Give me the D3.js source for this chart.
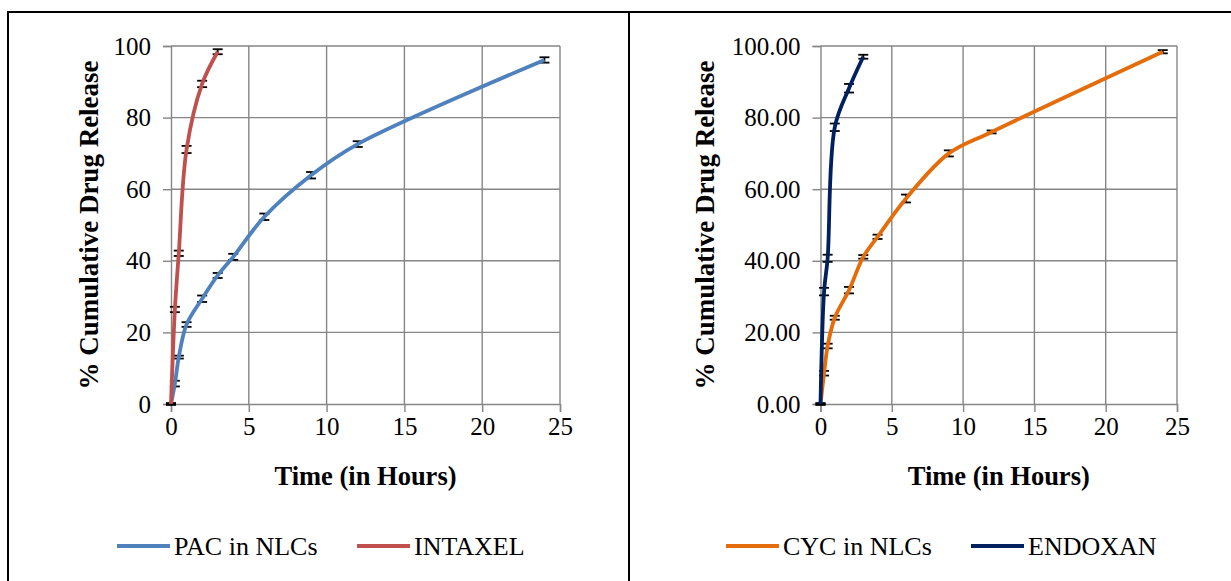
<!DOCTYPE html>
<html>
<head>
<meta charset="utf-8">
<script src="https://cdn.jsdelivr.net/npm/d3@7/dist/d3.min.js"></script>
<style>
  html, body { margin: 0; padding: 0; background: #fff; }
  svg { display: block; }
  svg text { font-family: "Liberation Serif", "Times New Roman", serif !important; fill: #000; }
</style>
</head>
<body>
<svg id="chart" width="1231" height="581" font-family="Liberation Serif"></svg>
<script>
// Sampling times (hours)
const timesNLC = [0, 0.25, 0.5, 1, 2, 3, 4, 6, 9, 12, 24];
const timesMarket = [0, 0.25, 0.5, 1, 2, 3];

// Paclitaxel release (%)
const pacNLC = [0, 5.7, 13.1, 22.2, 29.4, 35.9, 41.1, 52.3, 63.9, 72.6, 96.1];
const pacNLCErr = [0.2, 0.8, 0.4, 0.65, 0.9, 0.7, 0.85, 0.9, 0.9, 0.8, 0.75];
const intaxel = [0, 26.4, 42.1, 71.1, 89.4, 98.4];
const intaxelErr = [0.2, 0.75, 0.75, 1.0, 0.9, 0.7];

// Cyclophosphamide release (%)
const cycNLC = [0, 8.6, 16.2, 24.1, 31.8, 41.1, 46.7, 57.4, 70.0, 76.0, 98.4];
const cycNLCErr = [0.2, 0.65, 0.65, 0.55, 0.9, 0.5, 0.6, 1.1, 0.85, 0.4, 0.45];
const endoxan = [0, 31.4, 40.7, 77.3, 88.2, 97.0];
const endoxanErr = [0.2, 1.05, 1.0, 1.05, 1.2, 0.55];

// Axis ticks
const xTicks = [0, 5, 10, 15, 20, 25];
const yTicks = [0, 20, 40, 60, 80, 100];

const yTitle = "% Cumulative Drug Release";
const xTitle = "Time (in Hours)";

const svg = d3.select("#chart");
const gridColor = "#868686";
const serif = "Liberation Serif, Times New Roman, serif";

// Outer table frame
svg.append("path")
  .attr("d", "M8,581 V12 H1231 M629,12 V581")
  .attr("fill", "none").attr("stroke", "#000").attr("stroke-width", 2);

function toPoints(times, vals, errs) {
  return times.map((t, i) => ({ t, v: vals[i], e: errs[i] }));
}

function drawPanel(p) {
  const x = d3.scaleLinear().domain([0, 25]).range([p.left, p.right]);
  const y = d3.scaleLinear().domain([0, 100]).range([404, 46]);
  const g = svg.append("g");

  // Gridlines
  g.append("g").selectAll("line").data(yTicks.slice(1)).join("line")
    .attr("x1", p.left).attr("x2", p.right)
    .attr("y1", d => y(d)).attr("y2", d => y(d))
    .attr("stroke", gridColor).attr("stroke-width", 1.4);
  g.append("g").selectAll("line").data(xTicks.slice(1)).join("line")
    .attr("x1", d => x(d)).attr("x2", d => x(d))
    .attr("y1", y(0)).attr("y2", y(100))
    .attr("stroke", gridColor).attr("stroke-width", 1.4);

  // Axes
  const yAxis = d3.axisLeft(y).tickValues(yTicks).tickSize(8).tickPadding(12)
    .tickFormat(p.yFormat);
  const yg = g.append("g").attr("transform", `translate(${p.left},0)`).call(yAxis);
  const xAxis = d3.axisBottom(x).tickValues(xTicks).tickSize(8).tickPadding(5)
    .tickFormat(d3.format("d"));
  const xg = g.append("g").attr("transform", `translate(0,${y(0)})`).call(xAxis);
  [yg, xg].forEach(a => {
    a.attr("font-family", serif).attr("font-size", 25);
    a.selectAll("path.domain").attr("stroke", gridColor).attr("stroke-width", 1.4);
    a.selectAll(".tick line").attr("stroke", gridColor).attr("stroke-width", 1.4);
    a.selectAll("text").attr("fill", "#000");
  });

  // Axis titles
  g.append("text")
    .attr("transform", `translate(${p.yTitleX},225) rotate(-90)`)
    .attr("text-anchor", "middle").attr("dominant-baseline", "central")
    .attr("font-size", 27).attr("font-weight", "bold")
    .text(yTitle);
  g.append("text")
    .attr("x", (p.left + p.right) / 2).attr("y", 476)
    .attr("text-anchor", "middle").attr("dominant-baseline", "central")
    .attr("font-size", 26.5).attr("font-weight", "bold")
    .text(xTitle);

  const line = d3.line().x(d => x(d.t)).y(d => y(d.v))
    .curve(d3.curveCatmullRom.alpha(0.5));

  p.series.forEach(s => {
    const pts = toPoints(s.times, s.values, s.errors);
    // Error bars
    const eb = g.append("g").attr("stroke", "#000").attr("stroke-width", 1.8);
    pts.forEach(d => {
      const cx = x(d.t), yt = y(d.v + d.e), yb = y(d.v - d.e);
      eb.append("line").attr("x1", cx).attr("x2", cx).attr("y1", yt).attr("y2", yb);
      eb.append("line").attr("x1", cx - 5).attr("x2", cx + 5).attr("y1", yt).attr("y2", yt);
      eb.append("line").attr("x1", cx - 5).attr("x2", cx + 5).attr("y1", yb).attr("y2", yb);
    });
    g.append("path").datum(pts).attr("d", line)
      .attr("fill", "none").attr("stroke", s.color).attr("stroke-width", 3.8)
      .attr("stroke-linejoin", "round");
  });

  // Legend
  const lg = g.append("g");
  p.series.forEach(s => {
    lg.append("line").attr("x1", s.legendX).attr("x2", s.legendX + 53)
      .attr("y1", 546).attr("y2", 546)
      .attr("stroke", s.color).attr("stroke-width", 3.8);
    lg.append("text").attr("x", s.legendX + 57).attr("y", 546)
      .attr("dominant-baseline", "central")
      .attr("font-size", 26).text(s.name);
  });
}

drawPanel({
  left: 171, right: 560, yTitleX: 89,
  yFormat: d3.format("d"),
  series: [
    { name: "PAC in NLCs", times: timesNLC, values: pacNLC, errors: pacNLCErr, color: "#4f81bd", legendX: 117 },
    { name: "INTAXEL", times: timesMarket, values: intaxel, errors: intaxelErr, color: "#c0504d", legendX: 357 }
  ]
});

drawPanel({
  left: 820.5, right: 1177, yTitleX: 705,
  yFormat: d3.format(".2f"),
  series: [
    { name: "CYC in NLCs", times: timesNLC, values: cycNLC, errors: cycNLCErr, color: "#e46c0a", legendX: 726 },
    { name: "ENDOXAN", times: timesMarket, values: endoxan, errors: endoxanErr, color: "#002060", legendX: 971 }
  ]
});
</script>
</body>
</html>
